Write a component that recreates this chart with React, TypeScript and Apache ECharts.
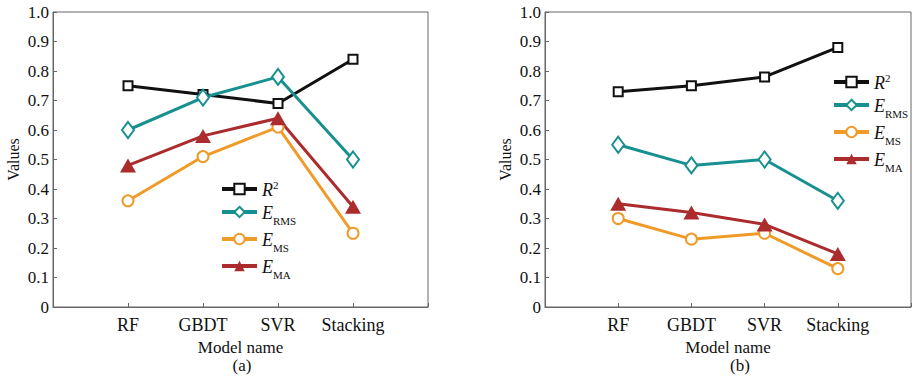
import React, { useEffect, useRef } from "react";
import * as echarts from "echarts";

const CATEGORIES = ["RF", "GBDT", "SVR", "Stacking"];
const Y_TICKS = [0, 0.1, 0.2, 0.3, 0.4, 0.5, 0.6, 0.7, 0.8, 0.9, 1.0];
const SERIES_NAMES = ["R2", "ERMS", "EMS", "EMA"];

// Panel (a)
const A_R2 = [0.75, 0.72, 0.69, 0.84];
const A_ERMS = [0.6, 0.71, 0.78, 0.5];
const A_EMS = [0.36, 0.51, 0.61, 0.25];
const A_EMA = [0.48, 0.58, 0.64, 0.34];

// Panel (b)
const B_R2 = [0.73, 0.75, 0.78, 0.88];
const B_ERMS = [0.55, 0.48, 0.5, 0.36];
const B_EMS = [0.3, 0.23, 0.25, 0.13];
const B_EMA = [0.35, 0.32, 0.28, 0.18];

const FONT = "Liberation Serif";
const COLORS: Record<string, string> = {
  R2: "#111111",
  ERMS: "#17908f",
  EMS: "#f09a28",
  EMA: "#ac2c2e",
};
const SYMBOLS: Record<string, any> = {
  R2: { symbol: "emptyRect", symbolSize: 9 },
  ERMS: { symbol: "emptyDiamond", symbolSize: [12, 16] },
  EMS: { symbol: "emptyCircle", symbolSize: 11 },
  EMA: { symbol: "triangle", symbolSize: [16, 14] },
};

const toPoints = (vals: number[]) => vals.map((v, i) => [i + 1, v]);

function makeGrid(left: number) {
  return {
    left,
    top: 12,
    width: 375,
    height: 295,
    show: true,
    borderColor: "#666",
    borderWidth: 1,
    containLabel: false,
  };
}

function makeX(gridIndex: number) {
  return {
    type: "value",
    gridIndex,
    min: 0,
    max: 5,
    interval: 1,
    splitLine: { show: false },
    axisLine: { show: true, lineStyle: { color: "#666", width: 1 } },
    axisTick: { show: true, inside: true, length: 4, lineStyle: { color: "#666" } },
    axisLabel: {
      fontFamily: FONT,
      fontSize: 18,
      color: "#111",
      margin: 9,
      formatter: (v: number) => CATEGORIES[v - 1] ?? "",
    },
    name: "Model name",
    nameLocation: "middle",
    nameGap: 24,
    nameTextStyle: { fontFamily: FONT, fontSize: 17, color: "#111", lineHeight: 17 },
  };
}

function makeY(gridIndex: number) {
  return {
    type: "value",
    gridIndex,
    min: 0,
    max: 1,
    interval: 0.1,
    splitLine: { show: false },
    axisLine: { show: true, lineStyle: { color: "#666", width: 1 } },
    axisTick: { show: true, inside: true, length: 4, lineStyle: { color: "#666" } },
    axisLabel: {
      fontFamily: FONT,
      fontSize: 17,
      color: "#111",
      margin: 4,
      formatter: (v: number) => {
        const t = Y_TICKS.find((x) => Math.abs(x - v) < 1e-6);
        const val = t === undefined ? v : t;
        return val === 0 ? "0" : val.toFixed(1);
      },
    },
    name: "Values",
    nameLocation: "middle",
    nameGap: 32,
    nameTextStyle: { fontFamily: FONT, fontSize: 16, color: "#111" },
  };
}

function makeSeries(idx: number, data: Record<string, number[]>) {
  return SERIES_NAMES.map((n) => ({
    name: n,
    type: "line",
    xAxisIndex: idx,
    yAxisIndex: idx,
    data: toPoints(data[n]),
    ...SYMBOLS[n],
    lineStyle: { color: COLORS[n], width: 3 },
    itemStyle: { color: COLORS[n], borderWidth: 2.5 },
    z: 2,
  }));
}

const legendRich = {
  it: { fontFamily: FONT, fontStyle: "italic", fontSize: 18, color: "#111", verticalAlign: "bottom", lineHeight: 20 },
  sub: { fontFamily: FONT, fontSize: 11, color: "#111", verticalAlign: "bottom", lineHeight: 14, padding: [0, 0, -4, 0] },
  sup: { fontFamily: FONT, fontSize: 11, color: "#111", verticalAlign: "top", lineHeight: 14, padding: [0, 0, 6, 0] },
};

function legendFormatter(name: string) {
  if (name === "R2") return "{it|R}{sup|2}";
  return "{it|E}{sub|" + name.slice(1) + "}";
}

function makeLegend(left: number, top: number) {
  return {
    orient: "vertical",
    left,
    top,
    itemWidth: 35,
    itemHeight: 13,
    itemGap: 5,
    data: SERIES_NAMES,
    selectedMode: false,
    formatter: legendFormatter,
    lineStyle: { width: 4 },
    textStyle: { rich: legendRich, fontFamily: FONT },
  };
}

export default function App() {
  const ref = useRef<HTMLDivElement>(null);
  useEffect(() => {
    if (!ref.current) return;
    const chart = echarts.init(ref.current, undefined, { renderer: "svg" });
    chart.setOption({
      animation: false,
      backgroundColor: "#fff",
      textStyle: { fontFamily: FONT },
      grid: [makeGrid(53), makeGrid(545)],
      xAxis: [makeX(0), makeX(1)],
      yAxis: [makeY(0), makeY(1)],
      legend: [makeLegend(215, 174), makeLegend(827, 67)],
      title: [
        { text: "(a)", left: 242, top: 357, padding: 0, textAlign: "center", textStyle: { fontFamily: FONT, fontSize: 17, lineHeight: 17, fontWeight: "normal", color: "#111" } },
        { text: "(b)", left: 740, top: 357, padding: 0, textAlign: "center", textStyle: { fontFamily: FONT, fontSize: 17, lineHeight: 17, fontWeight: "normal", color: "#111" } },
      ],
      series: [
        ...makeSeries(0, { R2: A_R2, ERMS: A_ERMS, EMS: A_EMS, EMA: A_EMA }),
        ...makeSeries(1, { R2: B_R2, ERMS: B_ERMS, EMS: B_EMS, EMA: B_EMA }),
      ],
    });
    return () => chart.dispose();
  }, []);
  return (
    <div
      ref={ref}
      style={{ position: "fixed", left: 0, top: 0, width: 914, height: 384 }}
    />
  );
}
